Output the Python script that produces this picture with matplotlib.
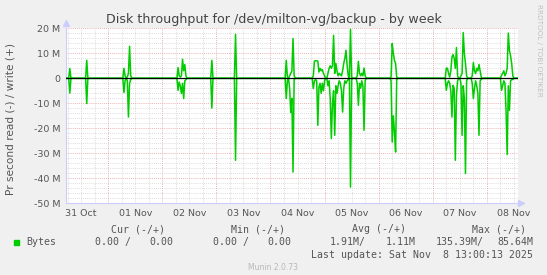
import numpy as np
import matplotlib
matplotlib.use("Agg")
import matplotlib.pyplot as plt

# samples on the 30 min RRD step, hours since 31 Oct 00:00
sample_hours = [7.0, 14.5,
                31.0, 31.5, 32.5, 33.0, 33.5, 34.0,
                55.0, 55.5, 56.0, 56.5, 57.0, 57.5, 58.0, 58.5,
                70.0, 80.5,
                103.0, 103.5, 104.5, 105.0, 105.5, 106.0, 106.5,
                115.0, 115.5, 116.0, 116.5, 117.0, 117.5, 118.0, 118.5, 119.0, 119.5, 120.0,
                121.5, 122.0, 122.5, 123.0, 123.5, 124.0, 124.5, 125.0, 125.5, 126.0,
                126.5, 127.0, 127.5, 128.0, 128.5, 129.0, 129.5, 130.0, 130.5, 131.5, 132.0,
                134.5, 135.0, 135.5, 136.0, 136.5, 137.0, 137.5, 138.0,
                149.5, 150.0, 150.5, 151.0, 151.5, 152.0,
                174.0, 174.5, 175.0, 175.5, 176.0, 176.5, 177.0, 177.5, 178.0, 178.5, 179.0,
                180.5, 181.0, 181.5, 182.0, 182.5, 183.0,
                185.5, 186.0, 186.5, 187.0, 187.5, 188.0, 188.5, 189.0, 189.5,
                198.5, 199.0, 199.5, 200.0, 200.5, 201.0, 201.5, 202.0, 202.5, 203.0, 203.5]
write_mb = [3.9, 7.2,
            4.0, 1.0, 0.5, 2.0, 12.8, 1.0,
            4.3, 1.0, 0.5, 1.0, 7.6, 3.0, 5.5, 1.0,
            7.2, 17.6,
            7.2, 0.5, 1.0, 2.0, 3.0, 15.9, 1.0,
            1.0, 6.9, 7.0, 7.0, 6.9, 2.5, 4.0, 3.0, 3.5, 2.0, 1.0,
            2.0, 4.0, 5.0, 4.0, 5.0, 17.2, 2.0, 6.0, 3.0, 1.0,
            2.0, 1.5, 1.0, 3.0, 6.0, 8.0, 11.2, 5.2, 1.0, 19.6, 0.5,
            1.0, 6.8, 2.0, 1.0, 2.0, 1.0, 4.1, 1.0,
            0.5, 13.9, 10.0, 7.2, 5.9, 0.5,
            4.1, 4.0, 2.0, 0.5, 3.0, 8.5, 9.5, 8.0, 4.0, 12.3, 1.0,
            1.0, 2.0, 18.3, 10.0, 5.9, 1.0,
            1.0, 6.3, 3.0, 1.9, 4.0, 3.0, 5.5, 3.0, 0.5,
            1.2, 2.0, 3.0, 1.0, 2.0, 4.0, 18.1, 11.2, 9.0, 5.9, 1.0]
read_mb = [5.9, 10.1,
           5.7, 1.0, 1.0, 15.5, 2.0, 0.5,
           4.8, 1.5, 3.0, 6.1, 2.0, 8.1, 1.0, 0.5,
           11.9, 32.8,
           8.1, 1.0, 4.0, 13.7, 8.0, 37.5, 0.5,
           4.1, 1.0, 0.5, 1.0, 18.8, 3.5, 2.0, 6.0, 2.0, 5.0, 1.0,
           3.0, 1.0, 8.0, 24.1, 10.0, 5.0, 22.8, 3.0, 6.0, 3.0,
           1.0, 2.0, 5.0, 13.5, 4.0, 1.0, 2.0, 1.0, 0.5, 43.5, 0.5,
           2.0, 10.8, 2.0, 4.0, 1.0, 3.0, 20.8, 1.0,
           1.0, 25.5, 15.0, 21.5, 29.5, 0.5,
           4.8, 2.0, 1.0, 2.0, 5.0, 15.5, 2.8, 4.0, 32.8, 6.8, 1.0,
           2.0, 22.8, 3.0, 8.0, 38.1, 1.0,
           2.0, 8.1, 4.0, 1.0, 3.0, 6.0, 22.8, 1.0, 0.5,
           4.8, 3.0, 1.0, 2.0, 13.0, 30.5, 3.0, 12.8, 1.0, 0.5, 0.5]

day_labels = ["31 Oct", "01 Nov", "02 Nov", "03 Nov", "04 Nov",
              "05 Nov", "06 Nov", "07 Nov", "08 Nov"]
y_ticks = [20, 10, 0, -10, -20, -30, -40, -50]

# full 30 min grid, zero where nothing was logged
t = np.arange(5.5, 205.51, 0.5)
w = np.zeros_like(t)
r = np.zeros_like(t)
for h, wv, rv in zip(sample_hours, write_mb, read_mb):
    i = int(round((h - 5.5) / 0.5))
    w[i] = wv
    r[i] = rv

W, H = 547, 275
bg = "#f0f0f0"
txt = "#555555"
fig = plt.figure(figsize=(W / 100, H / 100), dpi=100, facecolor=bg)
ax = fig.add_axes([66 / W, 1 - 203.3 / H, 452 / W, 175 / H])
ax.set_facecolor("white")
ax.set_xlim(5.3, 205.8)
ax.set_ylim(-50, 20)

# grid
dot = (0, (1, 1.5))
for hh in np.arange(6, 205.8, 6):
    if hh % 24 != 0:
        ax.axvline(hh, color="#d0d0d0", lw=0.6, ls=dot, zorder=0)
for yy in range(-48, 20, 2):
    if yy % 10 != 0:
        ax.axhline(yy, color="#d0d0d0", lw=0.6, ls=dot, zorder=0)
for hh in range(24, 205, 24):
    ax.axvline(hh, color="#e89a9a", lw=0.6, ls=dot, zorder=0)
for yy in y_ticks:
    ax.axhline(yy, color="#e89a9a", lw=0.6, ls=dot, zorder=0)

ax.plot(t, w, color="#00cc00", lw=1.1, zorder=3)
ax.plot(t, -r, color="#00cc00", lw=1.1, zorder=3)
ax.axhline(0, color="black", lw=0.9, zorder=4)

ax.set_xticks([12 + 24 * k for k in range(len(day_labels))])
ax.set_xticklabels(day_labels)
ax.set_yticks(y_ticks)
ax.set_yticklabels([f"{v} M" if v != 0 else "0" for v in y_ticks])
ax.tick_params(length=0, labelsize=6.8, colors=txt, pad=4)
for lab in ax.get_xticklabels() + ax.get_yticklabels():
    lab.set_color(txt)

for s in ["top", "right"]:
    ax.spines[s].set_visible(False)
for s in ["left", "bottom"]:
    ax.spines[s].set_color("#ccccff")
    ax.spines[s].set_linewidth(0.8)
ax.plot([0], [1.03], marker="^", ms=4, color="#ccccff", transform=ax.transAxes, clip_on=False)
ax.plot([1.007], [0], marker=">", ms=4, color="#ccccff", transform=ax.transAxes, clip_on=False)


def ftext(x, y, s, **kw):
    fig.text(x / W, 1 - y / H, s, **kw)


ftext(273.5, 19.7, "Disk throughput for /dev/milton-vg/backup - by week",
      ha="center", va="center", fontsize=9.1, color="#444444")
ftext(10.5, 119, "Pr second read (-) / write (+)", rotation=90,
      ha="center", va="center", fontsize=7.6, color=txt)
ftext(539, 4, "RRDTOOL / TOBI OETIKER", rotation=270,
      ha="center", va="top", fontsize=5.2, color="#c0c0c0")

mono = dict(family="DejaVu Sans Mono", fontsize=7.1, color=txt, va="center")
ftext(138, 229, "Cur (-/+)", ha="center", **mono)
ftext(258, 229, "Min (-/+)", ha="center", **mono)
ftext(378.5, 229, "Avg (-/+)", ha="center", **mono)
ftext(499, 229, "Max (-/+)", ha="center", **mono)
fig.patches.append(plt.Rectangle((14 / W, 1 - 245 / H), 5 / W, 5 / H,
                                 transform=fig.transFigure, color="#00cc00"))
ftext(26, 242.3, "Bytes", ha="left", **mono)
ftext(131, 242.3, "0.00 /", ha="right", **mono)
ftext(173.5, 242.3, "0.00", ha="right", **mono)
ftext(249, 242.3, "0.00 /", ha="right", **mono)
ftext(291.5, 242.3, "0.00", ha="right", **mono)
ftext(366, 242.3, "1.91M/", ha="right", **mono)
ftext(415.5, 242.3, "1.11M", ha="right", **mono)
ftext(484, 242.3, "135.39M/", ha="right", **mono)
ftext(533, 242.3, "85.64M", ha="right", **mono)
ftext(533, 254.5, "Last update: Sat Nov  8 13:00:13 2025", ha="right", **mono)
ftext(273, 267.5, "Munin 2.0.73", ha="center", va="center",
      fontsize=5.5, color="#b8b8b8")

fig.savefig("out.png", dpi=100, facecolor=bg)
